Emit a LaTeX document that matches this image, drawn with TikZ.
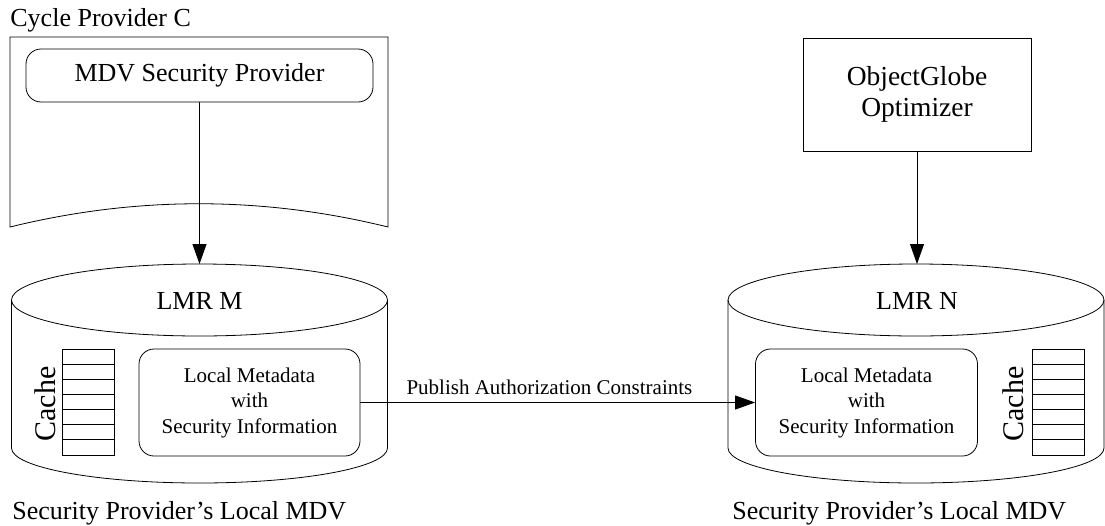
\documentclass[tikz,border=0pt]{standalone}
\usepackage{fontspec}
\setmainfont{Liberation Serif}
\usetikzlibrary{arrows.meta}
\begin{document}
\begin{tikzpicture}[x=1pt,y=-1pt, line width=0.8pt,
  big/.style={font=\fontsize{26}{31}\selectfont},
  small/.style={font=\fontsize{21}{25.5}\selectfont},
  cachefont/.style={font=\fontsize{30}{34}\selectfont},
  roundbox/.style={draw, rounded corners=15pt, inner sep=0pt},
  flow/.style={-{Triangle[length=20pt,width=14pt]}},
  plain/.style={inner sep=0pt, anchor=base west, big},
]
\useasboundingbox (0,0) rectangle (1105,525);

% --- Cycle provider (document shape) ---
\node[plain] (cpc) at (10,26) {Cycle Provider C};
\draw (10,37) -- (388,37) -- (388,227)
      .. controls (262,196) and (136,196) .. (10,227) -- cycle;
\node[roundbox, big, minimum width=347pt, minimum height=53pt]
  (mdv) at (199.5,75.5) {MDV Security Provider};

% --- ObjectGlobe optimizer ---
\node[draw, align=center, inner sep=0pt, font=\fontsize{27.5}{31}\selectfont,
      minimum width=228pt, minimum height=113pt]
  (og) at (917,94.5) {ObjectGlobe\\Optimizer};

% --- two metadata repositories (drums) ---
\foreach \cx in {199.5, 916} {
  \draw (\cx,300) ellipse [x radius=188pt, y radius=36pt];
  \draw ({\cx-188},300) -- ({\cx-188},448)
        arc[start angle=180, end angle=360, x radius=188pt, y radius=35pt]
        -- ({\cx+188},300);
}
\coordinate (mtop) at (199.5,264);
\coordinate (ntop) at (917,264);

\node[big] (lmrm) at (199.5,301) {LMR M};
\node[big] (lmrn) at (917,301) {LMR N};

\node[roundbox, small, align=center, minimum width=221pt, minimum height=107pt]
  (lmdm) at (249.5,402.5) {Local Metadata\\with\\Security Information};
\node[roundbox, small, align=center, minimum width=222pt, minimum height=107pt]
  (lmdn) at (866.5,402.5) {Local Metadata\\with\\Security Information};

% caches
\foreach \x in {62, 1032} {
  \draw (\x,349) rectangle ({\x+52},455);
  \foreach \i in {1,...,6}
    \draw (\x,{349+\i*106/7}) -- ({\x+52},{349+\i*106/7});
}
\node[cachefont, rotate=90, anchor=base, inner sep=0pt] (cachem) at (55,404) {Cache};
\node[cachefont, rotate=90, anchor=base, inner sep=0pt] (cachen) at (1023,404) {Cache};

% captions
\node[plain] (capm) at (12,519) {Security Provider’s Local MDV};
\node[plain] (capn) at (732,519) {Security Provider’s Local MDV};

% --- connectors ---
\draw[flow] (mdv.south) -- (mtop);
\draw[flow] (og.south) -- (ntop);
\draw[flow] (lmdm.east) -- node[small, above=4pt, pos=0.479] (pub)
  {Publish Authorization Constraints} (lmdn.west);
\end{tikzpicture}
\end{document}
